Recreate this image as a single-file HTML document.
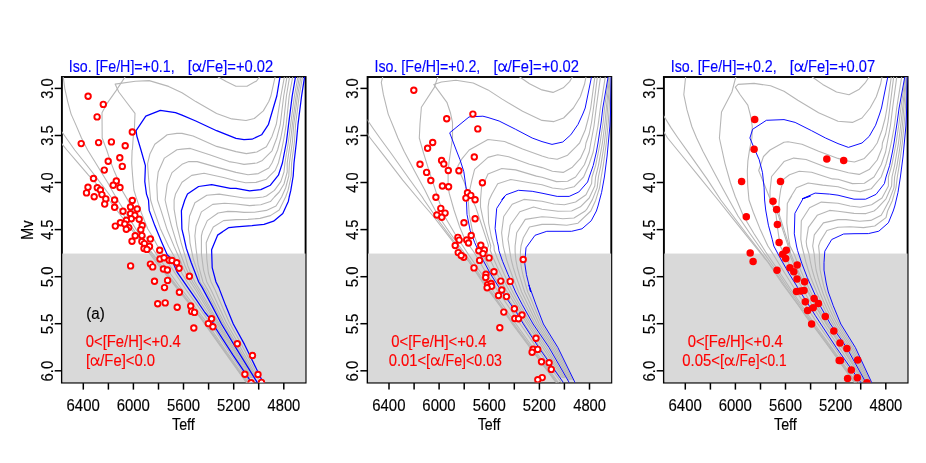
<!DOCTYPE html><html><head><meta charset="utf-8"><style>html,body{margin:0;padding:0;background:#fff}svg{display:block}text{font-family:"Liberation Sans",sans-serif;white-space:pre}</style></head><body>
<svg width="926" height="463" viewBox="0 0 926 463">
<rect width="926" height="463" fill="#fff"/>
<clipPath id="c0"><rect x="61.9" y="77.0" width="243.7" height="305.6"/></clipPath>
<rect x="61.9" y="77.0" width="243.7" height="305.6" fill="none" stroke="#000" stroke-width="1.9"/>
<rect x="62.35" y="253.55" width="243.08" height="128.85" fill="#d9d9d9"/>
<g clip-path="url(#c0)" fill="none"><path d="M275.3,76.1 L275.0,77.4 L270.9,96.0 L268.8,101.5 L263.3,110.9 L254.3,118.5 L246.0,120.5 L231.8,118.9 L216.6,113.4 L195.8,101.6 L182.0,92.7 L168.6,86.4 L149.2,80.6 L135.4,81.2 L115.1,84.1 L118.8,92.0 L127.1,103.0 L135.0,113.4 L134.4,129.3 L133.3,136.0 L132.4,149.8 L132.1,150.0 L131.7,163.0 L132.6,175.9 L133.9,190.0 L136.0,196.8 L141.4,213.0 L147.8,229.0 L152.2,236.0 L157.0,245.0 L167.7,262.0 L186.2,290.0 L210.9,324.0 L229.1,352.0 L251.0,384.0" stroke="#b6b6b6" stroke-width="1.1" stroke-linejoin="round"/>
<path d="M217.3,75.4 L218.2,77.0 L226.2,81.6 L235.9,86.2 L247.0,86.2 L256.6,80.9 L259.4,77.0 L260.1,75.4" stroke="#b6b6b6" stroke-width="1.1" stroke-linejoin="round"/>
<path d="M126.0,75.4 L125.0,77.0 L116.1,90.6 L106.4,104.4 L102.0,112.7 L102.2,138.0 L106.7,150.0 L110.1,160.4 L114.4,171.6 L117.9,179.4 L121.4,189.2 L128.4,201.1 L143.5,232.4 L150.1,245.0 L161.9,262.0 L182.2,290.0 L207.8,324.0 L226.8,352.0 L249.2,384.0" stroke="#b6b6b6" stroke-width="1.1" stroke-linejoin="round"/>
<path d="M63.0,75.4 L63.3,77.5 L64.9,89.2 L67.7,101.6 L71.1,114.1 L76.0,125.1 L81.5,138.0 L87.6,150.0 L94.6,161.2 L101.5,172.5 L108.4,183.7 L111.8,190.0 L117.6,200.0 L138.0,232.4 L146.4,245.0 L158.7,262.0 L180.0,290.0 L206.1,324.0 L225.6,352.0 L248.2,384.0" stroke="#b6b6b6" stroke-width="1.1" stroke-linejoin="round"/>
<path d="M60.0,129.5 L62.7,133.0 L74.7,150.0 L85.1,163.0 L94.6,175.1 L102.3,185.4 L113.3,200.0 L135.5,232.4 L144.8,245.0 L157.3,262.0 L179.1,290.0 L205.4,324.0 L225.1,352.0 L247.8,384.0" stroke="#b6b6b6" stroke-width="1.1" stroke-linejoin="round"/>
<path d="M60.0,141.5 L62.7,144.8 L66.9,150.0 L77.3,162.1 L88.5,175.1 L96.3,183.7 L109.0,200.0 L133.8,232.4 L156.6,262.8 L200.4,318.0 L245.9,381.9 L247.4,384.0" stroke="#b6b6b6" stroke-width="1.1" stroke-linejoin="round"/>
<path d="M284.7,76.1 L284.3,77.4 L280.9,96.0 L276.3,124.3 L272.0,136.4 L266.4,146.8 L256.8,152.0 L246.4,153.6 L236.0,151.6 L216.6,146.4 L193.1,136.0 L182.0,133.4 L176.9,133.4 L167.2,134.8 L163.1,138.0 L154.8,144.3 L149.9,154.0 L147.6,163.6 L148.5,177.5 L150.6,200.0 L153.4,209.1 L160.3,228.4 L168.6,246.4 L175.5,258.8 L178.5,266.0 L182.2,274.0 L187.2,282.0 L192.6,290.0 L198.0,298.0 L203.1,306.0 L208.4,314.0 L214.2,322.0 L218.7,330.0 L223.8,338.0 L228.8,346.0 L233.9,354.0 L239.2,362.0 L244.5,370.0 L249.8,378.0" stroke="#b6b6b6" stroke-width="1.1" stroke-linejoin="round"/>
<path d="M287.2,76.1 L286.9,77.4 L283.7,96.0 L280.3,124.3 L276.8,138.0 L272.0,150.8 L262.4,160.4 L256.8,163.0 L244.0,164.4 L236.0,162.8 L229.0,161.6 L209.6,154.7 L190.3,148.4 L182.0,149.1 L176.9,149.8 L164.4,158.1 L158.2,171.9 L156.8,184.4 L157.5,200.0 L161.0,210.4 L167.2,229.8 L174.1,246.4 L179.6,258.8 L182.4,266.0 L186.0,274.0 L190.5,282.0 L195.7,290.0 L200.7,298.0 L205.6,306.0 L210.6,314.0 L216.0,322.0 L220.5,330.0 L225.5,338.0 L230.5,346.0 L235.5,354.0 L240.7,362.0 L245.9,370.0 L251.1,378.0" stroke="#b6b6b6" stroke-width="1.1" stroke-linejoin="round"/>
<path d="M289.8,76.1 L289.5,77.4 L286.4,96.0 L283.4,124.3 L280.8,138.0 L277.6,150.0 L272.0,163.0 L268.8,168.0 L258.4,173.6 L248.0,174.8 L236.0,172.4 L216.6,167.1 L197.2,161.6 L188.9,161.6 L182.0,164.3 L172.0,172.6 L167.2,184.4 L165.1,200.0 L167.2,209.1 L171.4,225.6 L176.9,243.6 L182.4,258.8 L185.1,266.0 L188.6,274.0 L192.7,282.0 L197.8,290.0 L202.6,298.0 L207.4,306.0 L212.1,314.0 L217.2,322.0 L221.8,330.0 L226.7,338.0 L231.6,346.0 L236.6,354.0 L241.8,362.0 L246.9,370.0 L252.0,378.0" stroke="#b6b6b6" stroke-width="1.1" stroke-linejoin="round"/>
<path d="M292.9,76.1 L292.6,77.4 L289.2,96.0 L286.2,124.3 L284.0,138.0 L281.6,150.0 L278.4,163.0 L275.2,170.4 L266.4,179.2 L256.0,182.4 L245.6,182.8 L236.0,180.8 L223.5,177.5 L204.1,173.3 L191.7,175.4 L182.0,182.3 L175.5,194.1 L174.1,200.0 L174.1,209.1 L176.9,225.6 L181.0,242.2 L185.2,256.1 L187.9,266.0 L191.1,274.0 L194.9,282.0 L199.8,290.0 L204.5,298.0 L209.1,306.0 L213.6,314.0 L218.4,322.0 L223.0,330.0 L227.9,338.0 L232.8,346.0 L237.7,354.0 L242.8,362.0 L247.9,370.0 L252.9,378.0" stroke="#b6b6b6" stroke-width="1.1" stroke-linejoin="round"/>
<path d="M298.1,76.1 L297.8,77.4 L294.4,96.0 L290.7,124.3 L288.4,142.0 L284.9,163.0 L284.0,172.0 L280.8,181.6 L274.4,190.4 L266.4,196.0 L263.2,197.0 L254.4,198.0 L244.0,198.0 L236.0,196.8 L219.2,194.1 L206.8,195.2 L194.9,202.7 L189.5,216.2 L188.4,229.2 L189.5,236.0 L190.0,242.8 L193.3,259.0 L198.7,275.2 L200.0,282.0 L205.6,290.0 L209.7,298.0 L213.8,306.0 L217.9,314.0 L222.0,322.0 L226.6,330.0 L231.4,338.0 L236.1,346.0 L240.9,354.0 L245.7,362.0 L250.5,370.0 L255.3,378.0" stroke="#b6b6b6" stroke-width="1.1" stroke-linejoin="round"/>
<path d="M299.7,76.1 L299.3,77.4 L296.1,96.0 L292.4,124.3 L290.4,142.0 L287.2,163.0 L287.2,172.0 L284.0,184.0 L279.2,192.0 L274.4,197.0 L270.4,201.6 L260.8,204.8 L249.6,205.6 L236.0,204.0 L224.6,203.3 L212.7,204.4 L201.4,211.9 L196.0,226.0 L194.9,236.0 L196.0,248.2 L198.1,264.4 L203.0,282.0 L207.8,290.0 L211.8,298.0 L215.8,306.0 L219.7,314.0 L223.7,322.0 L228.2,330.0 L232.9,338.0 L237.6,346.0 L242.2,354.0 L246.9,362.0 L251.6,370.0 L256.2,378.0" stroke="#b6b6b6" stroke-width="1.1" stroke-linejoin="round"/>
<path d="M301.2,76.1 L300.9,77.4 L297.5,96.0 L293.8,124.3 L292.4,142.0 L289.4,163.0 L288.8,176.0 L285.6,188.0 L281.6,197.0 L276.0,206.0 L266.4,210.4 L254.4,212.2 L244.0,212.4 L236.0,211.6 L227.8,211.4 L218.1,213.0 L207.3,220.6 L202.5,231.4 L201.4,236.0 L201.4,253.6 L203.5,269.8 L206.8,282.0 L211.1,290.0 L214.8,298.0 L218.5,306.0 L222.3,314.0 L226.1,322.0 L230.5,330.0 L235.1,338.0 L239.7,346.0 L244.1,354.0 L248.6,362.0 L253.0,370.0 L257.5,378.0" stroke="#b6b6b6" stroke-width="1.1" stroke-linejoin="round"/>
<path d="M302.8,76.1 L302.4,77.4 L299.2,96.0 L295.6,124.3 L294.4,142.0 L291.6,163.0 L291.2,176.0 L288.0,190.4 L285.6,197.0 L279.2,210.0 L270.4,215.6 L260.0,218.4 L248.0,219.4 L236.0,219.6 L223.5,220.6 L213.3,227.0 L208.9,236.0 L206.2,242.8 L206.8,259.0 L208.4,273.0 L211.1,282.0 L215.1,290.0 L218.5,298.0 L222.0,306.0 L225.5,314.0 L229.1,322.0 L233.4,330.0 L237.9,338.0 L242.3,346.0 L246.5,354.0 L250.7,362.0 L254.9,370.0 L259.1,378.0" stroke="#b6b6b6" stroke-width="1.1" stroke-linejoin="round"/>
<path d="M280.2,76.1 L279.9,77.4 L276.8,96.0 L268.5,124.3 L261.6,134.8 L252.0,139.2 L244.0,139.6 L236.0,138.4 L216.6,130.7 L195.8,121.0 L182.0,115.2 L175.5,112.7 L160.3,110.4 L145.8,116.2 L136.1,130.7 L136.8,136.0 L140.9,149.8 L145.4,165.7 L144.8,181.6 L146.5,194.1 L148.5,200.0 L149.2,210.4 L154.8,225.6 L161.7,242.2 L167.2,254.7 L171.4,258.8 L177.3,272.4 L187.0,286.3 L196.6,300.1 L204.9,312.5 L211.9,320.8 L215.8,328.3 L232.7,354.7 L251.1,381.9 L252.5,384.0" stroke="#0000ff" stroke-width="1.25" stroke-linejoin="round"/>
<path d="M295.8,76.1 L295.4,77.4 L292.2,96.0 L288.6,124.3 L286.4,142.0 L282.4,163.0 L278.4,175.2 L270.4,185.2 L260.8,189.6 L249.6,190.8 L236.0,188.4 L230.4,188.3 L211.7,184.7 L198.6,186.5 L187.5,194.1 L184.8,200.0 L181.4,210.8 L181.9,229.2 L183.6,236.0 L186.3,248.2 L191.1,262.2 L198.7,282.0 L202.2,287.6 L211.9,305.6 L221.5,324.0 L235.6,347.4 L256.9,381.9 L258.2,384.0" stroke="#0000ff" stroke-width="1.25" stroke-linejoin="round"/>
<path d="M304.9,76.1 L304.5,77.4 L301.6,96.0 L298.0,124.3 L296.4,142.0 L294.0,163.0 L293.2,176.0 L290.8,190.4 L289.2,197.0 L288.4,201.2 L282.8,213.6 L273.6,221.2 L264.0,224.4 L252.0,225.6 L236.0,226.8 L228.9,227.6 L217.6,235.1 L222.4,232.0 L217.6,235.2 L211.6,249.8 L212.2,267.6 L216.0,282.0 L218.8,287.6 L225.7,305.6 L233.3,324.0 L244.5,344.4 L262.8,381.9 L264.2,384.0" stroke="#0000ff" stroke-width="1.25" stroke-linejoin="round"/></g>
<g clip-path="url(#c0)"><circle cx="88.1" cy="96.3" r="2.75" fill="#fff" stroke="#ff0000" stroke-width="1.9"/>
<circle cx="103.3" cy="104.4" r="2.75" fill="#fff" stroke="#ff0000" stroke-width="1.9"/>
<circle cx="97.1" cy="116.9" r="2.75" fill="#fff" stroke="#ff0000" stroke-width="1.9"/>
<circle cx="132.3" cy="132.0" r="2.75" fill="#fff" stroke="#ff0000" stroke-width="1.9"/>
<circle cx="81.2" cy="143.6" r="2.75" fill="#fff" stroke="#ff0000" stroke-width="1.9"/>
<circle cx="98.6" cy="142.6" r="2.75" fill="#fff" stroke="#ff0000" stroke-width="1.9"/>
<circle cx="111.4" cy="141.9" r="2.75" fill="#fff" stroke="#ff0000" stroke-width="1.9"/>
<circle cx="125.2" cy="145.8" r="2.75" fill="#fff" stroke="#ff0000" stroke-width="1.9"/>
<circle cx="119.8" cy="157.7" r="2.75" fill="#fff" stroke="#ff0000" stroke-width="1.9"/>
<circle cx="108.2" cy="161.2" r="2.75" fill="#fff" stroke="#ff0000" stroke-width="1.9"/>
<circle cx="122.3" cy="166.4" r="2.75" fill="#fff" stroke="#ff0000" stroke-width="1.9"/>
<circle cx="104.3" cy="170.1" r="2.75" fill="#fff" stroke="#ff0000" stroke-width="1.9"/>
<circle cx="93.5" cy="178.5" r="2.75" fill="#fff" stroke="#ff0000" stroke-width="1.9"/>
<circle cx="116.3" cy="181.0" r="2.75" fill="#fff" stroke="#ff0000" stroke-width="1.9"/>
<circle cx="113.2" cy="185.3" r="2.75" fill="#fff" stroke="#ff0000" stroke-width="1.9"/>
<circle cx="120.0" cy="187.5" r="2.75" fill="#fff" stroke="#ff0000" stroke-width="1.9"/>
<circle cx="88.0" cy="187.3" r="2.75" fill="#fff" stroke="#ff0000" stroke-width="1.9"/>
<circle cx="97.3" cy="187.7" r="2.75" fill="#fff" stroke="#ff0000" stroke-width="1.9"/>
<circle cx="100.4" cy="190.0" r="2.75" fill="#fff" stroke="#ff0000" stroke-width="1.9"/>
<circle cx="86.5" cy="192.9" r="2.75" fill="#fff" stroke="#ff0000" stroke-width="1.9"/>
<circle cx="101.9" cy="194.6" r="2.75" fill="#fff" stroke="#ff0000" stroke-width="1.9"/>
<circle cx="94.2" cy="196.7" r="2.75" fill="#fff" stroke="#ff0000" stroke-width="1.9"/>
<circle cx="105.8" cy="198.9" r="2.75" fill="#fff" stroke="#ff0000" stroke-width="1.9"/>
<circle cx="114.6" cy="200.0" r="2.75" fill="#fff" stroke="#ff0000" stroke-width="1.9"/>
<circle cx="132.3" cy="200.5" r="2.75" fill="#fff" stroke="#ff0000" stroke-width="1.9"/>
<circle cx="104.7" cy="204.1" r="2.75" fill="#fff" stroke="#ff0000" stroke-width="1.9"/>
<circle cx="114.6" cy="207.3" r="2.75" fill="#fff" stroke="#ff0000" stroke-width="1.9"/>
<circle cx="130.5" cy="207.0" r="2.75" fill="#fff" stroke="#ff0000" stroke-width="1.9"/>
<circle cx="137.2" cy="209.0" r="2.75" fill="#fff" stroke="#ff0000" stroke-width="1.9"/>
<circle cx="123.0" cy="211.3" r="2.75" fill="#fff" stroke="#ff0000" stroke-width="1.9"/>
<circle cx="130.5" cy="213.8" r="2.75" fill="#fff" stroke="#ff0000" stroke-width="1.9"/>
<circle cx="134.9" cy="215.4" r="2.75" fill="#fff" stroke="#ff0000" stroke-width="1.9"/>
<circle cx="131.3" cy="218.8" r="2.75" fill="#fff" stroke="#ff0000" stroke-width="1.9"/>
<circle cx="139.2" cy="219.3" r="2.75" fill="#fff" stroke="#ff0000" stroke-width="1.9"/>
<circle cx="126.4" cy="220.2" r="2.75" fill="#fff" stroke="#ff0000" stroke-width="1.9"/>
<circle cx="120.4" cy="222.8" r="2.75" fill="#fff" stroke="#ff0000" stroke-width="1.9"/>
<circle cx="124.8" cy="224.0" r="2.75" fill="#fff" stroke="#ff0000" stroke-width="1.9"/>
<circle cx="115.3" cy="226.1" r="2.75" fill="#fff" stroke="#ff0000" stroke-width="1.9"/>
<circle cx="142.2" cy="225.5" r="2.75" fill="#fff" stroke="#ff0000" stroke-width="1.9"/>
<circle cx="128.7" cy="227.6" r="2.75" fill="#fff" stroke="#ff0000" stroke-width="1.9"/>
<circle cx="126.3" cy="229.2" r="2.75" fill="#fff" stroke="#ff0000" stroke-width="1.9"/>
<circle cx="140.8" cy="229.8" r="2.75" fill="#fff" stroke="#ff0000" stroke-width="1.9"/>
<circle cx="135.2" cy="235.8" r="2.75" fill="#fff" stroke="#ff0000" stroke-width="1.9"/>
<circle cx="141.9" cy="235.6" r="2.75" fill="#fff" stroke="#ff0000" stroke-width="1.9"/>
<circle cx="150.4" cy="239.0" r="2.75" fill="#fff" stroke="#ff0000" stroke-width="1.9"/>
<circle cx="132.0" cy="241.3" r="2.75" fill="#fff" stroke="#ff0000" stroke-width="1.9"/>
<circle cx="141.9" cy="241.5" r="2.75" fill="#fff" stroke="#ff0000" stroke-width="1.9"/>
<circle cx="144.4" cy="243.6" r="2.75" fill="#fff" stroke="#ff0000" stroke-width="1.9"/>
<circle cx="149.5" cy="246.4" r="2.75" fill="#fff" stroke="#ff0000" stroke-width="1.9"/>
<circle cx="144.0" cy="248.5" r="2.75" fill="#fff" stroke="#ff0000" stroke-width="1.9"/>
<circle cx="146.9" cy="249.4" r="2.75" fill="#fff" stroke="#ff0000" stroke-width="1.9"/>
<circle cx="159.7" cy="250.3" r="2.75" fill="#fff" stroke="#ff0000" stroke-width="1.9"/>
<circle cx="160.0" cy="259.0" r="2.75" fill="#fff" stroke="#ff0000" stroke-width="1.9"/>
<circle cx="164.1" cy="257.7" r="2.75" fill="#fff" stroke="#ff0000" stroke-width="1.9"/>
<circle cx="169.2" cy="260.2" r="2.75" fill="#fff" stroke="#ff0000" stroke-width="1.9"/>
<circle cx="172.0" cy="260.5" r="2.75" fill="#fff" stroke="#ff0000" stroke-width="1.9"/>
<circle cx="176.7" cy="262.8" r="2.75" fill="#fff" stroke="#ff0000" stroke-width="1.9"/>
<circle cx="150.4" cy="264.1" r="2.75" fill="#fff" stroke="#ff0000" stroke-width="1.9"/>
<circle cx="130.6" cy="265.9" r="2.75" fill="#fff" stroke="#ff0000" stroke-width="1.9"/>
<circle cx="152.7" cy="266.9" r="2.75" fill="#fff" stroke="#ff0000" stroke-width="1.9"/>
<circle cx="163.4" cy="269.0" r="2.75" fill="#fff" stroke="#ff0000" stroke-width="1.9"/>
<circle cx="167.4" cy="270.0" r="2.75" fill="#fff" stroke="#ff0000" stroke-width="1.9"/>
<circle cx="179.1" cy="268.3" r="2.75" fill="#fff" stroke="#ff0000" stroke-width="1.9"/>
<circle cx="189.4" cy="276.2" r="2.75" fill="#fff" stroke="#ff0000" stroke-width="1.9"/>
<circle cx="154.5" cy="281.3" r="2.75" fill="#fff" stroke="#ff0000" stroke-width="1.9"/>
<circle cx="167.6" cy="280.4" r="2.75" fill="#fff" stroke="#ff0000" stroke-width="1.9"/>
<circle cx="164.5" cy="287.6" r="2.75" fill="#fff" stroke="#ff0000" stroke-width="1.9"/>
<circle cx="179.4" cy="292.2" r="2.75" fill="#fff" stroke="#ff0000" stroke-width="1.9"/>
<circle cx="157.7" cy="303.7" r="2.75" fill="#fff" stroke="#ff0000" stroke-width="1.9"/>
<circle cx="165.2" cy="302.9" r="2.75" fill="#fff" stroke="#ff0000" stroke-width="1.9"/>
<circle cx="177.2" cy="307.3" r="2.75" fill="#fff" stroke="#ff0000" stroke-width="1.9"/>
<circle cx="190.7" cy="306.0" r="2.75" fill="#fff" stroke="#ff0000" stroke-width="1.9"/>
<circle cx="191.7" cy="311.4" r="2.75" fill="#fff" stroke="#ff0000" stroke-width="1.9"/>
<circle cx="194.5" cy="312.4" r="2.75" fill="#fff" stroke="#ff0000" stroke-width="1.9"/>
<circle cx="211.6" cy="318.7" r="2.75" fill="#fff" stroke="#ff0000" stroke-width="1.9"/>
<circle cx="208.3" cy="323.6" r="2.75" fill="#fff" stroke="#ff0000" stroke-width="1.9"/>
<circle cx="212.9" cy="326.7" r="2.75" fill="#fff" stroke="#ff0000" stroke-width="1.9"/>
<circle cx="193.8" cy="328.0" r="2.75" fill="#fff" stroke="#ff0000" stroke-width="1.9"/>
<circle cx="237.3" cy="343.8" r="2.75" fill="#fff" stroke="#ff0000" stroke-width="1.9"/>
<circle cx="252.5" cy="355.5" r="2.75" fill="#fff" stroke="#ff0000" stroke-width="1.9"/>
<circle cx="244.9" cy="374.3" r="2.75" fill="#fff" stroke="#ff0000" stroke-width="1.9"/>
<circle cx="258.0" cy="374.5" r="2.75" fill="#fff" stroke="#ff0000" stroke-width="1.9"/>
<circle cx="251.1" cy="382.7" r="2.75" fill="#fff" stroke="#ff0000" stroke-width="1.9"/>
<circle cx="261.5" cy="382.4" r="2.75" fill="#fff" stroke="#ff0000" stroke-width="1.9"/></g>
<line x1="83.3" y1="383.1" x2="83.3" y2="389.6" stroke="#000" stroke-width="1.5"/>
<line x1="108.4" y1="383.1" x2="108.4" y2="389.6" stroke="#000" stroke-width="1.5"/>
<line x1="133.4" y1="383.1" x2="133.4" y2="389.6" stroke="#000" stroke-width="1.5"/>
<line x1="158.5" y1="383.1" x2="158.5" y2="389.6" stroke="#000" stroke-width="1.5"/>
<line x1="183.5" y1="383.1" x2="183.5" y2="389.6" stroke="#000" stroke-width="1.5"/>
<line x1="208.6" y1="383.1" x2="208.6" y2="389.6" stroke="#000" stroke-width="1.5"/>
<line x1="233.7" y1="383.1" x2="233.7" y2="389.6" stroke="#000" stroke-width="1.5"/>
<line x1="258.7" y1="383.1" x2="258.7" y2="389.6" stroke="#000" stroke-width="1.5"/>
<line x1="283.8" y1="383.1" x2="283.8" y2="389.6" stroke="#000" stroke-width="1.5"/>
<line x1="61.4" y1="88.4" x2="54.699999999999996" y2="88.4" stroke="#000" stroke-width="1.5"/>
<line x1="61.4" y1="135.5" x2="54.699999999999996" y2="135.5" stroke="#000" stroke-width="1.5"/>
<line x1="61.4" y1="182.5" x2="54.699999999999996" y2="182.5" stroke="#000" stroke-width="1.5"/>
<line x1="61.4" y1="229.6" x2="54.699999999999996" y2="229.6" stroke="#000" stroke-width="1.5"/>
<line x1="61.4" y1="276.7" x2="54.699999999999996" y2="276.7" stroke="#000" stroke-width="1.5"/>
<line x1="61.4" y1="323.7" x2="54.699999999999996" y2="323.7" stroke="#000" stroke-width="1.5"/>
<line x1="61.4" y1="370.8" x2="54.699999999999996" y2="370.8" stroke="#000" stroke-width="1.5"/>
<clipPath id="c1"><rect x="367.6" y="77.0" width="243.7" height="305.6"/></clipPath>
<rect x="367.6" y="77.0" width="243.7" height="305.6" fill="none" stroke="#000" stroke-width="1.9"/>
<rect x="368.05" y="253.55" width="243.08" height="128.85" fill="#d9d9d9"/>
<g clip-path="url(#c1)" fill="none"><path d="M519.1,75.4 L519.8,77.0 L529.5,83.7 L541.9,89.9 L553.0,92.4 L563.3,87.8 L569.6,81.6 L572.3,77.0 L573.0,75.4" stroke="#b6b6b6" stroke-width="1.1" stroke-linejoin="round"/>
<path d="M438.2,75.4 L437.7,77.0 L434.5,87.1 L421.4,107.2 L420.0,123.8 L419.3,138.0 L423.4,152.6 L429.0,170.6 L434.5,187.1 L438.6,200.0 L444.4,216.0 L455.1,234.0 L466.8,252.0 L479.0,270.0 L492.3,290.0 L516.0,324.0 L536.1,352.0 L559.4,384.0" stroke="#b6b6b6" stroke-width="1.1" stroke-linejoin="round"/>
<path d="M586.2,76.0 L585.9,77.4 L584.5,84.3 L580.3,96.7 L573.4,108.0 L563.6,118.0 L554.0,121.6 L542.0,120.4 L522.6,111.3 L501.8,98.9 L488.0,89.9 L473.2,83.0 L455.9,80.2 L441.4,82.0 L433.8,84.4 L435.2,86.4 L446.9,102.3 L450.4,112.7 L452.5,122.4 L452.5,138.0 L450.8,150.0 L449.2,160.8 L448.1,171.6 L448.1,185.6 L449.2,193.2 L454.0,210.0 L459.4,226.2 L464.8,239.2 L473.9,252.0 L484.5,270.0 L497.2,290.0 L520.3,324.0 L539.5,352.0 L562.3,384.0" stroke="#b6b6b6" stroke-width="1.1" stroke-linejoin="round"/>
<path d="M383.1,75.4 L382.7,77.0 L381.3,82.3 L383.4,94.7 L388.2,114.1 L394.4,129.3 L397.9,138.0 L404.1,151.2 L415.1,171.9 L424.8,189.9 L429.7,200.0 L438.3,216.0 L450.7,234.0 L463.6,252.0 L476.5,270.0 L490.1,290.0 L514.0,324.0 L534.6,352.0 L558.1,384.0" stroke="#b6b6b6" stroke-width="1.1" stroke-linejoin="round"/>
<path d="M364.0,115.5 L367.5,120.3 L373.7,129.3 L379.9,138.0 L391.6,154.0 L408.2,177.5 L422.1,196.8 L424.1,200.0 L435.2,216.0 L448.5,234.0 L461.9,252.0 L475.2,270.0 L488.9,290.0 L513.0,324.0 L533.8,352.0 L557.4,384.0" stroke="#b6b6b6" stroke-width="1.1" stroke-linejoin="round"/>
<path d="M364.0,129.3 L367.5,134.1 L370.2,138.0 L384.7,156.7 L402.7,180.2 L419.3,200.0 L433.1,216.0 L446.9,233.9 L460.8,251.9 L469.1,262.0 L483.3,283.5 L499.9,305.6 L512.3,324.0 L555.6,381.9 L557.0,384.0" stroke="#b6b6b6" stroke-width="1.1" stroke-linejoin="round"/>
<path d="M595.2,76.0 L594.8,77.4 L590.7,108.0 L588.4,118.0 L585.2,130.0 L579.6,143.0 L576.4,146.4 L567.6,155.2 L557.2,159.2 L548.4,158.0 L542.0,156.0 L522.6,149.1 L504.6,141.5 L488.0,139.5 L469.2,150.0 L462.1,158.6 L457.8,166.2 L460.5,173.8 L464.3,182.4 L467.0,190.0 L468.3,201.4 L469.2,214.4 L472.4,230.6 L476.7,242.4 L480.5,250.0 L484.3,258.0 L488.4,266.0 L492.6,274.0 L497.5,282.0 L502.4,290.0 L507.8,298.0 L513.2,306.0 L518.6,314.0 L523.3,322.0 L528.5,330.0 L533.8,338.0 L539.0,346.0 L544.5,354.0 L550.0,362.0 L555.4,370.0 L560.9,378.0" stroke="#b6b6b6" stroke-width="1.1" stroke-linejoin="round"/>
<path d="M597.6,76.0 L597.3,77.4 L593.5,108.0 L591.6,122.0 L589.2,134.0 L586.0,143.0 L585.2,148.0 L580.4,158.4 L572.4,167.2 L563.2,172.4 L552.4,171.2 L542.0,167.6 L529.5,164.3 L508.7,156.7 L497.7,154.7 L488.0,157.4 L474.6,169.4 L471.9,180.2 L469.7,190.0 L472.4,200.3 L475.6,206.8 L481.0,223.0 L486.4,239.2 L488.6,246.0 L485.9,250.0 L489.4,258.0 L493.2,266.0 L497.1,274.0 L501.6,282.0 L506.1,290.0 L511.0,298.0 L516.1,306.0 L521.2,314.0 L525.9,322.0 L531.0,330.0 L536.4,338.0 L541.7,346.0 L546.9,354.0 L552.1,362.0 L557.4,370.0 L562.6,378.0" stroke="#b6b6b6" stroke-width="1.1" stroke-linejoin="round"/>
<path d="M600.7,76.0 L600.4,77.4 L596.2,108.0 L594.0,126.0 L590.8,143.0 L589.2,152.0 L584.4,164.8 L575.6,177.0 L567.6,181.2 L556.4,181.6 L542.0,177.2 L536.4,176.1 L515.6,169.9 L501.8,168.5 L488.0,174.0 L484.3,182.4 L481.6,186.7 L480.5,200.0 L480.5,206.8 L483.2,219.8 L487.5,234.9 L490.8,246.0 L490.1,250.0 L493.3,258.0 L496.8,266.0 L500.6,274.0 L504.7,282.0 L508.9,290.0 L513.5,298.0 L518.3,306.0 L523.2,314.0 L527.8,322.0 L533.0,330.0 L538.4,338.0 L543.7,346.0 L548.8,354.0 L553.8,362.0 L558.9,370.0 L563.9,378.0" stroke="#b6b6b6" stroke-width="1.1" stroke-linejoin="round"/>
<path d="M605.6,76.0 L605.2,77.4 L600.4,108.0 L598.0,126.0 L594.8,143.0 L593.2,152.0 L589.2,164.0 L583.6,177.0 L574.0,186.8 L563.6,189.2 L552.4,188.0 L542.0,184.8 L526.7,182.3 L510.8,179.5 L497.7,183.7 L491.8,194.3 L489.1,200.0 L488.1,206.8 L488.6,223.0 L491.3,237.0 L494.0,246.0 L494.2,250.0 L497.2,258.0 L500.5,266.0 L504.1,274.0 L507.8,282.0 L511.7,290.0 L516.0,298.0 L520.5,306.0 L525.2,314.0 L529.8,322.0 L535.0,330.0 L540.4,338.0 L545.8,346.0 L550.7,354.0 L555.5,362.0 L560.3,370.0 L565.2,378.0" stroke="#b6b6b6" stroke-width="1.1" stroke-linejoin="round"/>
<path d="M609.0,76.0 L608.8,77.4 L604.5,108.0 L603.2,122.0 L600.1,143.0 L598.4,152.0 L595.6,165.6 L592.0,177.0 L591.6,183.6 L586.0,194.8 L575.6,202.0 L564.4,204.8 L554.0,204.0 L542.0,201.2 L523.9,199.4 L512.2,204.2 L503.7,216.5 L501.6,232.7 L503.2,246.0 L504.6,252.0 L506.7,260.0 L509.4,268.0 L512.3,276.0 L515.5,284.0 L518.6,292.0 L522.7,300.0 L526.7,308.0 L530.9,316.0 L535.1,324.0 L540.5,332.0 L545.8,340.0 L551.1,348.0 L555.6,356.0 L560.0,364.0 L564.5,372.0 L568.9,380.0" stroke="#b6b6b6" stroke-width="1.1" stroke-linejoin="round"/>
<path d="M609.7,76.0 L609.5,77.4 L606.3,108.0 L605.1,122.0 L602.4,143.0 L600.8,152.0 L598.4,165.6 L595.6,177.0 L594.8,186.0 L589.2,198.0 L580.4,206.8 L571.6,211.0 L558.0,211.2 L542.0,209.2 L533.6,207.0 L519.8,211.8 L510.2,225.2 L508.0,239.2 L509.1,246.0 L509.9,252.0 L511.3,260.0 L513.4,268.0 L515.9,276.0 L518.8,284.0 L521.6,292.0 L525.6,300.0 L529.4,308.0 L533.3,316.0 L537.2,324.0 L542.4,332.0 L547.7,340.0 L552.8,348.0 L557.2,356.0 L561.5,364.0 L565.8,372.0 L570.1,380.0" stroke="#b6b6b6" stroke-width="1.1" stroke-linejoin="round"/>
<path d="M610.4,76.0 L610.2,77.4 L607.6,108.0 L606.7,122.0 L604.4,143.0 L603.0,152.0 L600.8,165.6 L598.4,177.0 L597.2,187.6 L592.4,199.6 L586.8,209.2 L585.2,211.0 L574.0,218.0 L562.8,218.8 L550.0,217.2 L542.0,216.8 L525.3,219.4 L516.7,232.7 L515.1,246.0 L515.1,252.0 L515.9,260.0 L517.4,268.0 L519.6,276.0 L522.1,284.0 L524.7,292.0 L528.5,300.0 L532.0,308.0 L535.6,316.0 L539.3,324.0 L544.4,332.0 L549.5,340.0 L554.6,348.0 L558.8,356.0 L563.0,364.0 L567.2,372.0 L571.3,380.0" stroke="#b6b6b6" stroke-width="1.1" stroke-linejoin="round"/>
<path d="M610.9,76.0 L610.7,77.4 L609.2,108.0 L608.3,122.0 L606.3,143.0 L605.1,152.0 L603.2,165.6 L601.2,177.0 L599.6,187.6 L595.6,200.4 L590.8,211.0 L578.0,223.2 L566.8,225.2 L554.0,224.4 L542.0,224.4 L529.5,227.0 L523.2,238.1 L521.0,246.0 L520.4,252.0 L520.5,260.0 L521.4,268.0 L523.2,276.0 L525.4,284.0 L527.7,292.0 L531.4,300.0 L534.6,308.0 L538.0,316.0 L541.4,324.0 L546.4,332.0 L551.4,340.0 L556.3,348.0 L560.4,356.0 L564.5,364.0 L568.5,372.0 L572.6,380.0" stroke="#b6b6b6" stroke-width="1.1" stroke-linejoin="round"/>
<path d="M591.7,76.0 L591.4,77.4 L585.2,108.0 L582.8,114.0 L578.0,124.4 L570.8,134.8 L562.8,142.0 L552.0,144.4 L542.0,141.6 L532.2,138.0 L515.6,129.3 L499.1,121.0 L488.0,117.5 L482.9,116.2 L469.1,116.9 L449.7,132.8 L456.2,150.0 L460.0,159.7 L463.8,171.6 L465.9,186.7 L466.5,191.0 L466.5,201.4 L467.0,214.4 L470.2,230.6 L474.6,242.4 L477.3,248.5 L483.2,260.4 L490.8,274.4 L498.3,286.3 L502.1,292.0 L506.8,298.7 L516.5,312.5 L523.4,324.0 L538.7,347.4 L562.9,381.9 L564.4,384.0" stroke="#0000ff" stroke-width="0.95" stroke-linejoin="round"/>
<path d="M608.3,76.0 L608.0,77.4 L602.8,108.0 L601.2,122.0 L598.0,143.0 L596.4,152.0 L593.2,165.6 L589.2,177.0 L587.6,182.0 L578.8,192.0 L569.2,196.4 L557.2,196.4 L542.0,193.2 L532.2,191.3 L518.4,190.3 L506.0,194.8 L501.8,200.0 L504.8,196.0 L496.7,208.4 L495.1,228.4 L497.2,241.4 L498.3,246.0 L498.9,250.6 L502.6,261.4 L508.0,274.4 L515.6,292.0 L522.0,304.2 L533.1,324.0 L549.0,347.4 L568.8,381.9 L570.0,384.0" stroke="#0000ff" stroke-width="0.95" stroke-linejoin="round"/>
<path d="M611.4,76.0 L611.1,77.4 L610.7,108.0 L609.9,126.0 L608.3,143.0 L607.1,156.0 L604.4,177.0 L601.6,192.4 L598.0,206.0 L596.4,211.0 L591.2,220.8 L582.0,228.8 L571.6,231.3 L558.0,231.3 L546.8,231.3 L535.0,235.3 L526.0,247.8 L525.3,256.0 L524.8,263.6 L526.4,274.4 L530.7,292.0 L528.9,284.9 L535.8,304.2 L543.4,324.0 L557.8,347.4 L574.7,381.9 L575.7,384.0" stroke="#0000ff" stroke-width="0.95" stroke-linejoin="round"/></g>
<g clip-path="url(#c1)"><circle cx="413.8" cy="90.3" r="2.75" fill="#fff" stroke="#ff0000" stroke-width="1.9"/>
<circle cx="446.7" cy="118.7" r="2.75" fill="#fff" stroke="#ff0000" stroke-width="1.9"/>
<circle cx="472.9" cy="114.1" r="2.75" fill="#fff" stroke="#ff0000" stroke-width="1.9"/>
<circle cx="477.8" cy="128.9" r="2.75" fill="#fff" stroke="#ff0000" stroke-width="1.9"/>
<circle cx="432.7" cy="142.5" r="2.75" fill="#fff" stroke="#ff0000" stroke-width="1.9"/>
<circle cx="427.6" cy="148.2" r="2.75" fill="#fff" stroke="#ff0000" stroke-width="1.9"/>
<circle cx="420.0" cy="164.3" r="2.75" fill="#fff" stroke="#ff0000" stroke-width="1.9"/>
<circle cx="426.6" cy="172.4" r="2.75" fill="#fff" stroke="#ff0000" stroke-width="1.9"/>
<circle cx="430.8" cy="180.5" r="2.75" fill="#fff" stroke="#ff0000" stroke-width="1.9"/>
<circle cx="435.9" cy="197.2" r="2.75" fill="#fff" stroke="#ff0000" stroke-width="1.9"/>
<circle cx="474.3" cy="157.0" r="2.75" fill="#fff" stroke="#ff0000" stroke-width="1.9"/>
<circle cx="441.6" cy="160.5" r="2.75" fill="#fff" stroke="#ff0000" stroke-width="1.9"/>
<circle cx="443.8" cy="164.0" r="2.75" fill="#fff" stroke="#ff0000" stroke-width="1.9"/>
<circle cx="448.3" cy="170.5" r="2.75" fill="#fff" stroke="#ff0000" stroke-width="1.9"/>
<circle cx="458.9" cy="170.7" r="2.75" fill="#fff" stroke="#ff0000" stroke-width="1.9"/>
<circle cx="482.4" cy="182.7" r="2.75" fill="#fff" stroke="#ff0000" stroke-width="1.9"/>
<circle cx="442.4" cy="186.0" r="2.75" fill="#fff" stroke="#ff0000" stroke-width="1.9"/>
<circle cx="448.6" cy="186.7" r="2.75" fill="#fff" stroke="#ff0000" stroke-width="1.9"/>
<circle cx="467.5" cy="192.7" r="2.75" fill="#fff" stroke="#ff0000" stroke-width="1.9"/>
<circle cx="470.8" cy="195.4" r="2.75" fill="#fff" stroke="#ff0000" stroke-width="1.9"/>
<circle cx="465.9" cy="198.1" r="2.75" fill="#fff" stroke="#ff0000" stroke-width="1.9"/>
<circle cx="475.1" cy="199.7" r="2.75" fill="#fff" stroke="#ff0000" stroke-width="1.9"/>
<circle cx="440.8" cy="208.4" r="2.75" fill="#fff" stroke="#ff0000" stroke-width="1.9"/>
<circle cx="445.1" cy="213.1" r="2.75" fill="#fff" stroke="#ff0000" stroke-width="1.9"/>
<circle cx="436.9" cy="215.0" r="2.75" fill="#fff" stroke="#ff0000" stroke-width="1.9"/>
<circle cx="441.8" cy="217.3" r="2.75" fill="#fff" stroke="#ff0000" stroke-width="1.9"/>
<circle cx="475.1" cy="218.7" r="2.75" fill="#fff" stroke="#ff0000" stroke-width="1.9"/>
<circle cx="464.0" cy="222.7" r="2.75" fill="#fff" stroke="#ff0000" stroke-width="1.9"/>
<circle cx="457.9" cy="237.4" r="2.75" fill="#fff" stroke="#ff0000" stroke-width="1.9"/>
<circle cx="471.2" cy="235.5" r="2.75" fill="#fff" stroke="#ff0000" stroke-width="1.9"/>
<circle cx="459.2" cy="240.1" r="2.75" fill="#fff" stroke="#ff0000" stroke-width="1.9"/>
<circle cx="466.7" cy="240.0" r="2.75" fill="#fff" stroke="#ff0000" stroke-width="1.9"/>
<circle cx="468.5" cy="243.0" r="2.75" fill="#fff" stroke="#ff0000" stroke-width="1.9"/>
<circle cx="455.2" cy="245.5" r="2.75" fill="#fff" stroke="#ff0000" stroke-width="1.9"/>
<circle cx="480.8" cy="245.2" r="2.75" fill="#fff" stroke="#ff0000" stroke-width="1.9"/>
<circle cx="484.3" cy="250.0" r="2.75" fill="#fff" stroke="#ff0000" stroke-width="1.9"/>
<circle cx="478.8" cy="250.7" r="2.75" fill="#fff" stroke="#ff0000" stroke-width="1.9"/>
<circle cx="458.2" cy="252.6" r="2.75" fill="#fff" stroke="#ff0000" stroke-width="1.9"/>
<circle cx="483.0" cy="253.6" r="2.75" fill="#fff" stroke="#ff0000" stroke-width="1.9"/>
<circle cx="463.7" cy="257.3" r="2.75" fill="#fff" stroke="#ff0000" stroke-width="1.9"/>
<circle cx="461.2" cy="255.5" r="2.75" fill="#fff" stroke="#ff0000" stroke-width="1.9"/>
<circle cx="489.1" cy="257.9" r="2.75" fill="#fff" stroke="#ff0000" stroke-width="1.9"/>
<circle cx="479.6" cy="260.4" r="2.75" fill="#fff" stroke="#ff0000" stroke-width="1.9"/>
<circle cx="523.2" cy="259.5" r="2.75" fill="#fff" stroke="#ff0000" stroke-width="1.9"/>
<circle cx="474.0" cy="267.9" r="2.75" fill="#fff" stroke="#ff0000" stroke-width="1.9"/>
<circle cx="494.0" cy="271.7" r="2.75" fill="#fff" stroke="#ff0000" stroke-width="1.9"/>
<circle cx="486.0" cy="274.3" r="2.75" fill="#fff" stroke="#ff0000" stroke-width="1.9"/>
<circle cx="485.7" cy="277.5" r="2.75" fill="#fff" stroke="#ff0000" stroke-width="1.9"/>
<circle cx="500.8" cy="281.1" r="2.75" fill="#fff" stroke="#ff0000" stroke-width="1.9"/>
<circle cx="510.2" cy="281.4" r="2.75" fill="#fff" stroke="#ff0000" stroke-width="1.9"/>
<circle cx="487.6" cy="284.8" r="2.75" fill="#fff" stroke="#ff0000" stroke-width="1.9"/>
<circle cx="491.1" cy="283.5" r="2.75" fill="#fff" stroke="#ff0000" stroke-width="1.9"/>
<circle cx="491.6" cy="286.2" r="2.75" fill="#fff" stroke="#ff0000" stroke-width="1.9"/>
<circle cx="487.1" cy="287.7" r="2.75" fill="#fff" stroke="#ff0000" stroke-width="1.9"/>
<circle cx="501.8" cy="290.0" r="2.75" fill="#fff" stroke="#ff0000" stroke-width="1.9"/>
<circle cx="498.5" cy="295.5" r="2.75" fill="#fff" stroke="#ff0000" stroke-width="1.9"/>
<circle cx="506.5" cy="296.6" r="2.75" fill="#fff" stroke="#ff0000" stroke-width="1.9"/>
<circle cx="514.4" cy="308.7" r="2.75" fill="#fff" stroke="#ff0000" stroke-width="1.9"/>
<circle cx="503.8" cy="312.1" r="2.75" fill="#fff" stroke="#ff0000" stroke-width="1.9"/>
<circle cx="522.0" cy="315.0" r="2.75" fill="#fff" stroke="#ff0000" stroke-width="1.9"/>
<circle cx="514.8" cy="318.5" r="2.75" fill="#fff" stroke="#ff0000" stroke-width="1.9"/>
<circle cx="518.5" cy="318.8" r="2.75" fill="#fff" stroke="#ff0000" stroke-width="1.9"/>
<circle cx="499.8" cy="327.8" r="2.75" fill="#fff" stroke="#ff0000" stroke-width="1.9"/>
<circle cx="536.0" cy="338.3" r="2.75" fill="#fff" stroke="#ff0000" stroke-width="1.9"/>
<circle cx="533.1" cy="349.2" r="2.75" fill="#fff" stroke="#ff0000" stroke-width="1.9"/>
<circle cx="537.7" cy="349.4" r="2.75" fill="#fff" stroke="#ff0000" stroke-width="1.9"/>
<circle cx="532.1" cy="352.2" r="2.75" fill="#fff" stroke="#ff0000" stroke-width="1.9"/>
<circle cx="541.5" cy="361.8" r="2.75" fill="#fff" stroke="#ff0000" stroke-width="1.9"/>
<circle cx="549.1" cy="362.8" r="2.75" fill="#fff" stroke="#ff0000" stroke-width="1.9"/>
<circle cx="551.3" cy="369.4" r="2.75" fill="#fff" stroke="#ff0000" stroke-width="1.9"/>
<circle cx="542.2" cy="377.6" r="2.75" fill="#fff" stroke="#ff0000" stroke-width="1.9"/>
<circle cx="537.8" cy="379.8" r="2.75" fill="#fff" stroke="#ff0000" stroke-width="1.9"/></g>
<line x1="389.0" y1="383.1" x2="389.0" y2="389.6" stroke="#000" stroke-width="1.5"/>
<line x1="414.1" y1="383.1" x2="414.1" y2="389.6" stroke="#000" stroke-width="1.5"/>
<line x1="439.1" y1="383.1" x2="439.1" y2="389.6" stroke="#000" stroke-width="1.5"/>
<line x1="464.2" y1="383.1" x2="464.2" y2="389.6" stroke="#000" stroke-width="1.5"/>
<line x1="489.2" y1="383.1" x2="489.2" y2="389.6" stroke="#000" stroke-width="1.5"/>
<line x1="514.3" y1="383.1" x2="514.3" y2="389.6" stroke="#000" stroke-width="1.5"/>
<line x1="539.4" y1="383.1" x2="539.4" y2="389.6" stroke="#000" stroke-width="1.5"/>
<line x1="564.4" y1="383.1" x2="564.4" y2="389.6" stroke="#000" stroke-width="1.5"/>
<line x1="589.5" y1="383.1" x2="589.5" y2="389.6" stroke="#000" stroke-width="1.5"/>
<line x1="367.1" y1="88.4" x2="360.40000000000003" y2="88.4" stroke="#000" stroke-width="1.5"/>
<line x1="367.1" y1="135.5" x2="360.40000000000003" y2="135.5" stroke="#000" stroke-width="1.5"/>
<line x1="367.1" y1="182.5" x2="360.40000000000003" y2="182.5" stroke="#000" stroke-width="1.5"/>
<line x1="367.1" y1="229.6" x2="360.40000000000003" y2="229.6" stroke="#000" stroke-width="1.5"/>
<line x1="367.1" y1="276.7" x2="360.40000000000003" y2="276.7" stroke="#000" stroke-width="1.5"/>
<line x1="367.1" y1="323.7" x2="360.40000000000003" y2="323.7" stroke="#000" stroke-width="1.5"/>
<line x1="367.1" y1="370.8" x2="360.40000000000003" y2="370.8" stroke="#000" stroke-width="1.5"/>
<clipPath id="c2"><rect x="663.9" y="77.0" width="243.7" height="305.6"/></clipPath>
<rect x="663.9" y="77.0" width="243.7" height="305.6" fill="none" stroke="#000" stroke-width="1.9"/>
<rect x="664.35" y="253.55" width="243.08" height="128.85" fill="#d9d9d9"/>
<g clip-path="url(#c2)" fill="none"><path d="M811.6,75.4 L812.3,77.0 L822.7,84.4 L836.5,92.0 L849.0,94.7 L859.3,89.2 L865.6,82.3 L869.0,77.0 L869.7,75.4" stroke="#b6b6b6" stroke-width="1.1" stroke-linejoin="round"/>
<path d="M736.3,75.4 L735.8,77.0 L731.9,92.0 L721.5,112.0 L720.1,129.3 L719.4,138.0 L725.0,163.6 L730.5,183.0 L735.3,196.8 L736.7,200.0 L743.4,216.0 L754.2,234.0 L765.7,252.0 L778.0,270.0 L791.2,290.0 L814.5,324.0 L834.9,352.0 L857.6,384.0" stroke="#b6b6b6" stroke-width="1.1" stroke-linejoin="round"/>
<path d="M882.2,76.0 L881.9,77.4 L880.5,84.3 L876.3,96.7 L870.1,108.0 L862.0,118.0 L852.4,122.4 L838.0,121.2 L818.6,112.7 L797.8,100.3 L784.0,91.3 L770.6,85.8 L754.0,83.4 L738.1,84.4 L735.3,87.1 L740.2,94.7 L747.8,105.1 L750.5,115.5 L752.3,126.5 L751.9,138.0 L749.5,150.0 L747.9,160.8 L747.3,171.6 L747.7,185.6 L749.0,200.0 L753.3,212.2 L759.8,228.4 L766.2,242.4 L767.9,246.0 L771.8,252.0 L782.8,270.0 L795.4,290.0 L817.9,324.0 L837.4,352.0 L859.9,384.0" stroke="#b6b6b6" stroke-width="1.1" stroke-linejoin="round"/>
<path d="M686.0,75.4 L685.6,77.0 L683.8,94.7 L687.0,109.9 L691.8,126.5 L696.6,138.0 L702.9,151.2 L713.9,171.9 L723.6,189.9 L729.1,200.0 L738.0,216.0 L750.3,234.0 L763.1,252.0 L775.9,270.0 L789.4,290.0 L813.0,324.0 L833.9,352.0 L856.6,384.0" stroke="#b6b6b6" stroke-width="1.1" stroke-linejoin="round"/>
<path d="M660.0,110.2 L663.5,115.5 L671.1,127.9 L678.0,138.0 L690.4,155.4 L707.0,178.9 L720.8,200.0 L733.0,216.0 L746.7,234.0 L760.6,252.0 L774.0,270.0 L787.7,290.0 L811.7,324.0 L832.9,352.0 L855.7,384.0" stroke="#b6b6b6" stroke-width="1.1" stroke-linejoin="round"/>
<path d="M660.0,126.3 L663.5,131.4 L667.6,138.0 L680.7,154.0 L698.7,176.1 L718.1,200.0 L731.9,217.4 L748.5,238.1 L765.1,258.8 L767.8,262.0 L782.1,283.5 L798.6,305.6 L811.1,324.0 L808.3,318.0 L853.8,381.9 L855.3,384.0" stroke="#b6b6b6" stroke-width="1.1" stroke-linejoin="round"/>
<path d="M891.5,76.0 L891.2,77.4 L887.0,108.0 L885.2,118.0 L882.0,130.0 L877.2,143.0 L873.2,148.8 L864.4,158.4 L854.4,162.0 L846.0,160.8 L838.0,158.4 L818.6,151.2 L802.0,144.3 L788.1,141.8 L784.0,142.2 L770.0,150.0 L763.5,156.5 L758.7,170.5 L763.5,182.4 L769.5,197.5 L776.0,214.4 L777.6,228.4 L779.2,239.2 L780.3,246.0 L784.2,254.0 L788.1,262.0 L792.2,270.0 L796.5,278.0 L801.0,286.0 L805.5,294.0 L810.3,302.0 L815.0,310.0 L820.0,318.0 L825.0,326.0 L830.3,334.0 L835.7,342.0 L841.0,350.0 L846.2,358.0 L851.5,366.0 L856.7,374.0 L862.0,382.0" stroke="#b6b6b6" stroke-width="1.1" stroke-linejoin="round"/>
<path d="M894.0,76.0 L893.6,77.4 L889.8,108.0 L888.0,122.0 L885.6,134.0 L882.4,143.0 L882.0,148.0 L877.2,160.0 L869.2,169.6 L859.2,174.4 L848.4,172.8 L838.0,170.0 L825.5,167.1 L806.1,159.5 L793.7,158.1 L784.0,161.6 L771.6,176.5 L770.0,191.0 L770.0,200.0 L778.1,214.4 L783.0,230.6 L787.3,243.5 L788.1,246.0 L789.4,254.0 L792.8,262.0 L796.5,270.0 L800.4,278.0 L804.6,286.0 L808.8,294.0 L813.2,302.0 L817.7,310.0 L822.5,318.0 L827.4,326.0 L832.8,334.0 L838.2,342.0 L843.5,350.0 L848.4,358.0 L853.4,366.0 L858.3,374.0 L863.3,382.0" stroke="#b6b6b6" stroke-width="1.1" stroke-linejoin="round"/>
<path d="M897.1,76.0 L896.7,77.4 L892.6,108.0 L890.4,126.0 L887.2,143.0 L885.6,152.0 L881.2,164.8 L874.0,177.0 L864.4,183.2 L852.4,183.6 L838.0,179.2 L832.4,178.9 L811.6,172.2 L799.2,171.3 L789.5,174.7 L784.0,178.9 L780.8,188.9 L779.2,200.0 L778.9,205.7 L779.2,214.4 L784.3,230.6 L788.4,243.5 L789.2,246.0 L790.8,254.0 L794.2,262.0 L797.8,270.0 L801.5,278.0 L805.6,286.0 L809.7,294.0 L814.0,302.0 L818.4,310.0 L823.2,318.0 L828.1,326.0 L833.5,334.0 L838.9,342.0 L844.2,350.0 L849.0,358.0 L853.9,366.0 L858.8,374.0 L863.6,382.0" stroke="#b6b6b6" stroke-width="1.1" stroke-linejoin="round"/>
<path d="M901.9,76.0 L901.6,77.4 L896.7,108.0 L894.4,126.0 L891.2,143.0 L889.2,152.0 L886.0,164.0 L881.2,177.0 L871.2,188.8 L860.4,191.6 L848.4,190.0 L838.0,186.8 L822.7,185.1 L808.2,183.0 L796.4,187.8 L788.9,200.0 L791.6,196.0 L787.3,203.6 L786.8,223.0 L788.4,237.0 L790.0,246.0 L794.1,254.0 L797.2,262.0 L800.5,270.0 L804.0,278.0 L807.9,286.0 L811.8,294.0 L815.9,302.0 L820.1,310.0 L824.8,318.0 L829.7,326.0 L835.1,334.0 L840.6,342.0 L845.8,350.0 L850.4,358.0 L855.1,366.0 L859.8,374.0 L864.4,382.0" stroke="#b6b6b6" stroke-width="1.1" stroke-linejoin="round"/>
<path d="M905.4,76.0 L905.2,77.4 L900.9,108.0 L899.2,122.0 L896.1,143.0 L894.4,152.0 L891.7,165.6 L888.4,177.0 L888.4,186.0 L882.0,198.0 L871.6,204.8 L860.4,207.2 L850.0,206.0 L838.0,203.2 L821.3,202.1 L809.6,207.7 L801.3,220.8 L800.8,239.2 L801.9,246.0 L803.9,254.0 L805.9,262.0 L808.3,270.0 L811.0,278.0 L814.2,286.0 L817.6,294.0 L821.1,302.0 L825.0,310.0 L829.3,318.0 L833.9,326.0 L839.2,334.0 L844.6,342.0 L849.6,350.0 L853.9,358.0 L858.2,366.0 L862.5,374.0 L866.7,382.0" stroke="#b6b6b6" stroke-width="1.1" stroke-linejoin="round"/>
<path d="M906.1,76.0 L905.8,77.4 L902.6,108.0 L901.1,122.0 L898.5,143.0 L896.9,152.0 L894.6,165.6 L892.0,177.0 L891.6,186.0 L886.0,198.8 L877.2,208.4 L874.0,211.0 L866.0,213.6 L854.0,213.4 L838.0,211.2 L829.6,210.4 L817.2,215.3 L808.4,227.3 L806.2,241.4 L806.7,246.0 L809.0,254.0 L810.4,262.0 L812.2,270.0 L814.6,278.0 L817.4,286.0 L820.4,294.0 L823.8,302.0 L827.5,310.0 L831.5,318.0 L835.9,326.0 L841.2,334.0 L846.5,342.0 L851.4,350.0 L855.5,358.0 L859.6,366.0 L863.8,374.0 L867.9,382.0" stroke="#b6b6b6" stroke-width="1.1" stroke-linejoin="round"/>
<path d="M906.6,76.0 L906.4,77.4 L903.8,108.0 L902.7,122.0 L900.5,143.0 L899.2,152.0 L897.0,165.6 L894.6,177.0 L894.0,187.6 L889.2,200.4 L883.6,211.0 L881.2,215.2 L870.8,220.4 L859.6,221.2 L846.0,219.6 L838.0,219.6 L823.4,222.9 L814.3,234.9 L812.7,246.0 L814.2,254.0 L815.0,262.0 L816.1,270.0 L818.2,278.0 L820.6,286.0 L823.3,294.0 L826.5,302.0 L830.0,310.0 L833.8,318.0 L838.0,326.0 L843.1,334.0 L848.3,342.0 L853.1,350.0 L857.1,358.0 L861.1,366.0 L865.1,374.0 L869.1,382.0" stroke="#b6b6b6" stroke-width="1.1" stroke-linejoin="round"/>
<path d="M907.1,76.0 L906.9,77.4 L905.4,108.0 L904.3,122.0 L902.3,143.0 L901.1,152.0 L899.2,165.6 L897.3,177.0 L896.0,187.6 L892.4,200.4 L887.6,211.0 L886.0,217.6 L874.8,226.0 L863.6,227.6 L850.0,226.8 L838.0,227.2 L826.9,230.5 L820.2,241.4 L818.6,246.0 L819.4,254.0 L819.5,262.0 L820.1,270.0 L821.8,278.0 L823.7,286.0 L826.2,294.0 L829.2,302.0 L832.5,310.0 L836.1,318.0 L840.0,326.0 L845.1,334.0 L850.1,342.0 L854.8,350.0 L858.7,358.0 L862.5,366.0 L866.4,374.0 L870.3,382.0" stroke="#b6b6b6" stroke-width="1.1" stroke-linejoin="round"/>
<path d="M888.1,76.0 L887.7,77.4 L881.5,108.0 L879.6,114.0 L875.6,125.2 L869.2,136.4 L862.0,143.0 L848.4,147.4 L838.0,143.6 L825.5,138.0 L811.6,130.7 L795.1,122.4 L784.0,119.6 L766.4,120.3 L752.6,129.3 L749.9,138.0 L755.4,151.1 L759.2,159.7 L762.5,172.7 L764.1,187.8 L764.6,200.0 L765.7,210.0 L768.4,225.2 L772.2,239.2 L773.8,246.0 L780.3,258.2 L788.9,273.3 L797.6,287.4 L800.3,292.0 L805.6,300.1 L815.2,315.3 L820.8,324.0 L836.2,347.4 L860.4,381.9 L861.9,384.0" stroke="#0000ff" stroke-width="0.95" stroke-linejoin="round"/>
<path d="M905.0,76.0 L904.7,77.4 L899.1,108.0 L897.2,122.0 L894.0,143.0 L892.4,152.0 L889.6,165.6 L886.0,177.0 L884.4,183.6 L876.0,194.4 L865.6,199.2 L854.0,199.2 L838.0,195.2 L829.6,194.1 L815.1,193.1 L802.0,198.9 L810.5,196.0 L803.0,198.7 L794.9,213.3 L794.3,233.8 L796.5,246.0 L797.6,250.6 L801.9,263.6 L807.3,277.6 L813.8,292.0 L820.8,307.0 L830.4,324.0 L846.5,347.4 L865.5,381.9 L866.7,384.0" stroke="#0000ff" stroke-width="0.95" stroke-linejoin="round"/>
<path d="M907.4,76.0 L907.1,77.4 L906.7,108.0 L905.9,126.0 L904.3,143.0 L903.1,156.0 L900.4,177.0 L898.0,192.4 L894.8,206.0 L893.2,211.0 L888.4,222.8 L878.8,231.2 L868.4,233.6 L854.0,233.7 L843.6,234.0 L831.7,239.5 L824.8,251.2 L824.0,262.5 L824.0,270.1 L826.2,283.0 L828.3,292.0 L833.2,305.6 L840.8,324.0 L855.3,347.4 L871.4,381.9 L872.4,384.0" stroke="#0000ff" stroke-width="0.95" stroke-linejoin="round"/></g>
<g clip-path="url(#c2)"><circle cx="754.7" cy="119.6" r="3.75" fill="#ff0000"/>
<circle cx="754.1" cy="149.2" r="3.75" fill="#ff0000"/>
<circle cx="826.8" cy="159.1" r="3.75" fill="#ff0000"/>
<circle cx="843.7" cy="160.6" r="3.75" fill="#ff0000"/>
<circle cx="741.6" cy="181.6" r="3.75" fill="#ff0000"/>
<circle cx="780.5" cy="181.4" r="3.75" fill="#ff0000"/>
<circle cx="773.0" cy="201.2" r="3.75" fill="#ff0000"/>
<circle cx="776.6" cy="209.4" r="3.75" fill="#ff0000"/>
<circle cx="746.3" cy="216.7" r="3.75" fill="#ff0000"/>
<circle cx="777.4" cy="224.5" r="3.75" fill="#ff0000"/>
<circle cx="779.1" cy="242.5" r="3.75" fill="#ff0000"/>
<circle cx="750.2" cy="253.0" r="3.75" fill="#ff0000"/>
<circle cx="786.3" cy="250.3" r="3.75" fill="#ff0000"/>
<circle cx="782.7" cy="254.3" r="3.75" fill="#ff0000"/>
<circle cx="785.7" cy="258.5" r="3.75" fill="#ff0000"/>
<circle cx="753.1" cy="261.6" r="3.75" fill="#ff0000"/>
<circle cx="797.2" cy="264.9" r="3.75" fill="#ff0000"/>
<circle cx="789.9" cy="267.7" r="3.75" fill="#ff0000"/>
<circle cx="777.0" cy="270.3" r="3.75" fill="#ff0000"/>
<circle cx="793.8" cy="271.7" r="3.75" fill="#ff0000"/>
<circle cx="797.0" cy="279.0" r="3.75" fill="#ff0000"/>
<circle cx="804.6" cy="281.7" r="3.75" fill="#ff0000"/>
<circle cx="796.5" cy="291.6" r="3.75" fill="#ff0000"/>
<circle cx="800.8" cy="290.9" r="3.75" fill="#ff0000"/>
<circle cx="804.0" cy="290.4" r="3.75" fill="#ff0000"/>
<circle cx="814.1" cy="298.4" r="3.75" fill="#ff0000"/>
<circle cx="805.3" cy="301.7" r="3.75" fill="#ff0000"/>
<circle cx="818.4" cy="303.5" r="3.75" fill="#ff0000"/>
<circle cx="813.2" cy="307.7" r="3.75" fill="#ff0000"/>
<circle cx="807.6" cy="310.5" r="3.75" fill="#ff0000"/>
<circle cx="825.3" cy="316.4" r="3.75" fill="#ff0000"/>
<circle cx="811.6" cy="324.0" r="3.75" fill="#ff0000"/>
<circle cx="833.8" cy="331.0" r="3.75" fill="#ff0000"/>
<circle cx="840.0" cy="343.0" r="3.75" fill="#ff0000"/>
<circle cx="846.9" cy="348.5" r="3.75" fill="#ff0000"/>
<circle cx="839.2" cy="360.4" r="3.75" fill="#ff0000"/>
<circle cx="840.4" cy="360.4" r="3.75" fill="#ff0000"/>
<circle cx="857.7" cy="360.0" r="3.75" fill="#ff0000"/>
<circle cx="851.3" cy="370.1" r="3.75" fill="#ff0000"/>
<circle cx="847.6" cy="378.4" r="3.75" fill="#ff0000"/>
<circle cx="857.3" cy="377.7" r="3.75" fill="#ff0000"/>
<circle cx="866.9" cy="382.8" r="3.75" fill="#ff0000"/></g>
<line x1="685.3" y1="383.1" x2="685.3" y2="389.6" stroke="#000" stroke-width="1.5"/>
<line x1="710.4" y1="383.1" x2="710.4" y2="389.6" stroke="#000" stroke-width="1.5"/>
<line x1="735.4" y1="383.1" x2="735.4" y2="389.6" stroke="#000" stroke-width="1.5"/>
<line x1="760.5" y1="383.1" x2="760.5" y2="389.6" stroke="#000" stroke-width="1.5"/>
<line x1="785.5" y1="383.1" x2="785.5" y2="389.6" stroke="#000" stroke-width="1.5"/>
<line x1="810.6" y1="383.1" x2="810.6" y2="389.6" stroke="#000" stroke-width="1.5"/>
<line x1="835.7" y1="383.1" x2="835.7" y2="389.6" stroke="#000" stroke-width="1.5"/>
<line x1="860.7" y1="383.1" x2="860.7" y2="389.6" stroke="#000" stroke-width="1.5"/>
<line x1="885.8" y1="383.1" x2="885.8" y2="389.6" stroke="#000" stroke-width="1.5"/>
<line x1="663.4" y1="88.4" x2="656.6999999999999" y2="88.4" stroke="#000" stroke-width="1.5"/>
<line x1="663.4" y1="135.5" x2="656.6999999999999" y2="135.5" stroke="#000" stroke-width="1.5"/>
<line x1="663.4" y1="182.5" x2="656.6999999999999" y2="182.5" stroke="#000" stroke-width="1.5"/>
<line x1="663.4" y1="229.6" x2="656.6999999999999" y2="229.6" stroke="#000" stroke-width="1.5"/>
<line x1="663.4" y1="276.7" x2="656.6999999999999" y2="276.7" stroke="#000" stroke-width="1.5"/>
<line x1="663.4" y1="323.7" x2="656.6999999999999" y2="323.7" stroke="#000" stroke-width="1.5"/>
<line x1="663.4" y1="370.8" x2="656.6999999999999" y2="370.8" stroke="#000" stroke-width="1.5"/>
<g style="opacity:0.999"><text transform="translate(66.55,410.60) scale(0.9976,1.04)" font-size="15" fill="#000" stroke="#000" stroke-width="0.15">6400</text>
<text transform="translate(116.67,410.60) scale(0.9976,1.04)" font-size="15" fill="#000" stroke="#000" stroke-width="0.15">6000</text>
<text transform="translate(166.94,410.60) scale(0.9930,1.04)" font-size="15" fill="#000" stroke="#000" stroke-width="0.15">5600</text>
<text transform="translate(217.06,410.60) scale(0.9930,1.04)" font-size="15" fill="#000" stroke="#000" stroke-width="0.15">5200</text>
<text transform="translate(267.48,410.60) scale(0.9838,1.04)" font-size="15" fill="#000" stroke="#000" stroke-width="0.15">4800</text>
<text transform="translate(52.60,98.79) rotate(-90) scale(0.9819,1.04)" font-size="15" fill="#000" stroke="#000" stroke-width="0.15">3.0</text>
<text transform="translate(52.60,145.86) rotate(-90) scale(0.9819,1.04)" font-size="15" fill="#000" stroke="#000" stroke-width="0.15">3.5</text>
<text transform="translate(52.60,192.77) rotate(-90) scale(0.9745,1.04)" font-size="15" fill="#000" stroke="#000" stroke-width="0.15">4.0</text>
<text transform="translate(52.60,239.84) rotate(-90) scale(0.9745,1.04)" font-size="15" fill="#000" stroke="#000" stroke-width="0.15">4.5</text>
<text transform="translate(52.60,287.20) rotate(-90) scale(0.9894,1.04)" font-size="15" fill="#000" stroke="#000" stroke-width="0.15">5.0</text>
<text transform="translate(52.60,334.27) rotate(-90) scale(0.9894,1.04)" font-size="15" fill="#000" stroke="#000" stroke-width="0.15">5.5</text>
<text transform="translate(52.60,381.49) rotate(-90) scale(0.9969,1.04)" font-size="15" fill="#000" stroke="#000" stroke-width="0.15">6.0</text>
<text transform="translate(172.01,430.30) scale(0.9518,1.04)" font-size="15" fill="#000" stroke="#000" stroke-width="0.15">Teff</text>
<text transform="translate(68.82,71.50) scale(0.9481,1.04)" font-size="15" fill="#0000ff" stroke="#0000ff" stroke-width="0.15">Iso. [Fe/H]=+0.1,</text>
<text transform="translate(187.85,71.50) scale(1.0000,1.04)" font-size="15" fill="#0000ff" stroke="#0000ff" stroke-width="0.15">[</text>
<text transform="translate(202.00,71.50) scale(0.9824,1.04)" font-size="15" fill="#0000ff" stroke="#0000ff" stroke-width="0.15">/Fe]=+0.02</text>
<text transform="translate(372.25,410.60) scale(0.9976,1.04)" font-size="15" fill="#000" stroke="#000" stroke-width="0.15">6400</text>
<text transform="translate(422.37,410.60) scale(0.9976,1.04)" font-size="15" fill="#000" stroke="#000" stroke-width="0.15">6000</text>
<text transform="translate(472.64,410.60) scale(0.9930,1.04)" font-size="15" fill="#000" stroke="#000" stroke-width="0.15">5600</text>
<text transform="translate(522.76,410.60) scale(0.9930,1.04)" font-size="15" fill="#000" stroke="#000" stroke-width="0.15">5200</text>
<text transform="translate(573.18,410.60) scale(0.9838,1.04)" font-size="15" fill="#000" stroke="#000" stroke-width="0.15">4800</text>
<text transform="translate(358.30,98.79) rotate(-90) scale(0.9819,1.04)" font-size="15" fill="#000" stroke="#000" stroke-width="0.15">3.0</text>
<text transform="translate(358.30,145.86) rotate(-90) scale(0.9819,1.04)" font-size="15" fill="#000" stroke="#000" stroke-width="0.15">3.5</text>
<text transform="translate(358.30,192.77) rotate(-90) scale(0.9745,1.04)" font-size="15" fill="#000" stroke="#000" stroke-width="0.15">4.0</text>
<text transform="translate(358.30,239.84) rotate(-90) scale(0.9745,1.04)" font-size="15" fill="#000" stroke="#000" stroke-width="0.15">4.5</text>
<text transform="translate(358.30,287.20) rotate(-90) scale(0.9894,1.04)" font-size="15" fill="#000" stroke="#000" stroke-width="0.15">5.0</text>
<text transform="translate(358.30,334.27) rotate(-90) scale(0.9894,1.04)" font-size="15" fill="#000" stroke="#000" stroke-width="0.15">5.5</text>
<text transform="translate(358.30,381.49) rotate(-90) scale(0.9969,1.04)" font-size="15" fill="#000" stroke="#000" stroke-width="0.15">6.0</text>
<text transform="translate(477.71,430.30) scale(0.9518,1.04)" font-size="15" fill="#000" stroke="#000" stroke-width="0.15">Teff</text>
<text transform="translate(374.52,71.50) scale(0.9481,1.04)" font-size="15" fill="#0000ff" stroke="#0000ff" stroke-width="0.15">Iso. [Fe/H]=+0.2,</text>
<text transform="translate(493.55,71.50) scale(1.0000,1.04)" font-size="15" fill="#0000ff" stroke="#0000ff" stroke-width="0.15">[</text>
<text transform="translate(507.70,71.50) scale(0.9824,1.04)" font-size="15" fill="#0000ff" stroke="#0000ff" stroke-width="0.15">/Fe]=+0.02</text>
<text transform="translate(668.55,410.60) scale(0.9976,1.04)" font-size="15" fill="#000" stroke="#000" stroke-width="0.15">6400</text>
<text transform="translate(718.67,410.60) scale(0.9976,1.04)" font-size="15" fill="#000" stroke="#000" stroke-width="0.15">6000</text>
<text transform="translate(768.94,410.60) scale(0.9930,1.04)" font-size="15" fill="#000" stroke="#000" stroke-width="0.15">5600</text>
<text transform="translate(819.06,410.60) scale(0.9930,1.04)" font-size="15" fill="#000" stroke="#000" stroke-width="0.15">5200</text>
<text transform="translate(869.48,410.60) scale(0.9838,1.04)" font-size="15" fill="#000" stroke="#000" stroke-width="0.15">4800</text>
<text transform="translate(654.60,98.79) rotate(-90) scale(0.9819,1.04)" font-size="15" fill="#000" stroke="#000" stroke-width="0.15">3.0</text>
<text transform="translate(654.60,145.86) rotate(-90) scale(0.9819,1.04)" font-size="15" fill="#000" stroke="#000" stroke-width="0.15">3.5</text>
<text transform="translate(654.60,192.77) rotate(-90) scale(0.9745,1.04)" font-size="15" fill="#000" stroke="#000" stroke-width="0.15">4.0</text>
<text transform="translate(654.60,239.84) rotate(-90) scale(0.9745,1.04)" font-size="15" fill="#000" stroke="#000" stroke-width="0.15">4.5</text>
<text transform="translate(654.60,287.20) rotate(-90) scale(0.9894,1.04)" font-size="15" fill="#000" stroke="#000" stroke-width="0.15">5.0</text>
<text transform="translate(654.60,334.27) rotate(-90) scale(0.9894,1.04)" font-size="15" fill="#000" stroke="#000" stroke-width="0.15">5.5</text>
<text transform="translate(654.60,381.49) rotate(-90) scale(0.9969,1.04)" font-size="15" fill="#000" stroke="#000" stroke-width="0.15">6.0</text>
<text transform="translate(774.01,430.30) scale(0.9518,1.04)" font-size="15" fill="#000" stroke="#000" stroke-width="0.15">Teff</text>
<text transform="translate(670.82,71.50) scale(0.9481,1.04)" font-size="15" fill="#0000ff" stroke="#0000ff" stroke-width="0.15">Iso. [Fe/H]=+0.2,</text>
<text transform="translate(789.85,71.50) scale(1.0000,1.04)" font-size="15" fill="#0000ff" stroke="#0000ff" stroke-width="0.15">[</text>
<text transform="translate(804.00,71.50) scale(0.9824,1.04)" font-size="15" fill="#0000ff" stroke="#0000ff" stroke-width="0.15">/Fe]=+0.07</text>
<text transform="translate(32.50,239.97) rotate(-90) scale(0.9790,1.04)" font-size="15" fill="#000" stroke="#000" stroke-width="0.15">Mv</text>
<text transform="translate(86.29,319.10) scale(1.0098,1.04)" font-size="15" fill="#000" stroke="#000" stroke-width="0.15">(a)</text>
<text transform="translate(85.76,346.80) scale(0.9877,1.04)" font-size="15" fill="#ff0000" stroke="#ff0000" stroke-width="0.15">0&lt;[Fe/H]&lt;+0.4</text>
<text transform="translate(85.95,365.60) scale(1.0000,1.04)" font-size="15" fill="#ff0000" stroke="#ff0000" stroke-width="0.15">[</text>
<text transform="translate(100.20,365.60) scale(0.9907,1.04)" font-size="15" fill="#ff0000" stroke="#ff0000" stroke-width="0.15">/Fe]&lt;0.0</text>
<text transform="translate(391.36,346.90) scale(0.9877,1.04)" font-size="15" fill="#ff0000" stroke="#ff0000" stroke-width="0.15">0&lt;[Fe/H]&lt;+0.4</text>
<text transform="translate(388.66,365.50) scale(0.9867,1.04)" font-size="15" fill="#ff0000" stroke="#ff0000" stroke-width="0.15">0.01&lt;[</text>
<text transform="translate(441.60,365.50) scale(0.9470,1.04)" font-size="15" fill="#ff0000" stroke="#ff0000" stroke-width="0.15">/Fe]&lt;0.03</text>
<text transform="translate(687.66,346.90) scale(0.9877,1.04)" font-size="15" fill="#ff0000" stroke="#ff0000" stroke-width="0.15">0&lt;[Fe/H]&lt;+0.4</text>
<text transform="translate(682.35,365.50) scale(0.9915,1.04)" font-size="15" fill="#ff0000" stroke="#ff0000" stroke-width="0.15">0.05&lt;[</text>
<text transform="translate(735.80,365.50) scale(0.9167,1.04)" font-size="15" fill="#ff0000" stroke="#ff0000" stroke-width="0.15">/Fe]&lt;0.1</text></g>
<path d="M0.555,-0.485 C0.49,-0.28 0.40,-0.045 0.215,-0.025 C0.07,-0.02 0.045,-0.16 0.045,-0.26 C0.045,-0.40 0.10,-0.49 0.215,-0.49 C0.37,-0.49 0.425,-0.30 0.47,-0.16 C0.50,-0.05 0.545,0.0 0.655,-0.045" transform="translate(192.50,71.50) scale(15,15.6)" fill="none" stroke="#0000ff" stroke-width="0.085" stroke-linecap="round"/>
<path d="M0.555,-0.485 C0.49,-0.28 0.40,-0.045 0.215,-0.025 C0.07,-0.02 0.045,-0.16 0.045,-0.26 C0.045,-0.40 0.10,-0.49 0.215,-0.49 C0.37,-0.49 0.425,-0.30 0.47,-0.16 C0.50,-0.05 0.545,0.0 0.655,-0.045" transform="translate(498.20,71.50) scale(15,15.6)" fill="none" stroke="#0000ff" stroke-width="0.085" stroke-linecap="round"/>
<path d="M0.555,-0.485 C0.49,-0.28 0.40,-0.045 0.215,-0.025 C0.07,-0.02 0.045,-0.16 0.045,-0.26 C0.045,-0.40 0.10,-0.49 0.215,-0.49 C0.37,-0.49 0.425,-0.30 0.47,-0.16 C0.50,-0.05 0.545,0.0 0.655,-0.045" transform="translate(794.50,71.50) scale(15,15.6)" fill="none" stroke="#0000ff" stroke-width="0.085" stroke-linecap="round"/>
<path d="M0.555,-0.485 C0.49,-0.28 0.40,-0.045 0.215,-0.025 C0.07,-0.02 0.045,-0.16 0.045,-0.26 C0.045,-0.40 0.10,-0.49 0.215,-0.49 C0.37,-0.49 0.425,-0.30 0.47,-0.16 C0.50,-0.05 0.545,0.0 0.655,-0.045" transform="translate(90.60,365.60) scale(15,15.6)" fill="none" stroke="#ff0000" stroke-width="0.085" stroke-linecap="round"/>
<path d="M0.555,-0.485 C0.49,-0.28 0.40,-0.045 0.215,-0.025 C0.07,-0.02 0.045,-0.16 0.045,-0.26 C0.045,-0.40 0.10,-0.49 0.215,-0.49 C0.37,-0.49 0.425,-0.30 0.47,-0.16 C0.50,-0.05 0.545,0.0 0.655,-0.045" transform="translate(430.90,365.50) scale(15,15.6)" fill="none" stroke="#ff0000" stroke-width="0.085" stroke-linecap="round"/>
<path d="M0.555,-0.485 C0.49,-0.28 0.40,-0.045 0.215,-0.025 C0.07,-0.02 0.045,-0.16 0.045,-0.26 C0.045,-0.40 0.10,-0.49 0.215,-0.49 C0.37,-0.49 0.425,-0.30 0.47,-0.16 C0.50,-0.05 0.545,0.0 0.655,-0.045" transform="translate(724.70,365.50) scale(15,15.6)" fill="none" stroke="#ff0000" stroke-width="0.085" stroke-linecap="round"/>
</svg></body></html>
